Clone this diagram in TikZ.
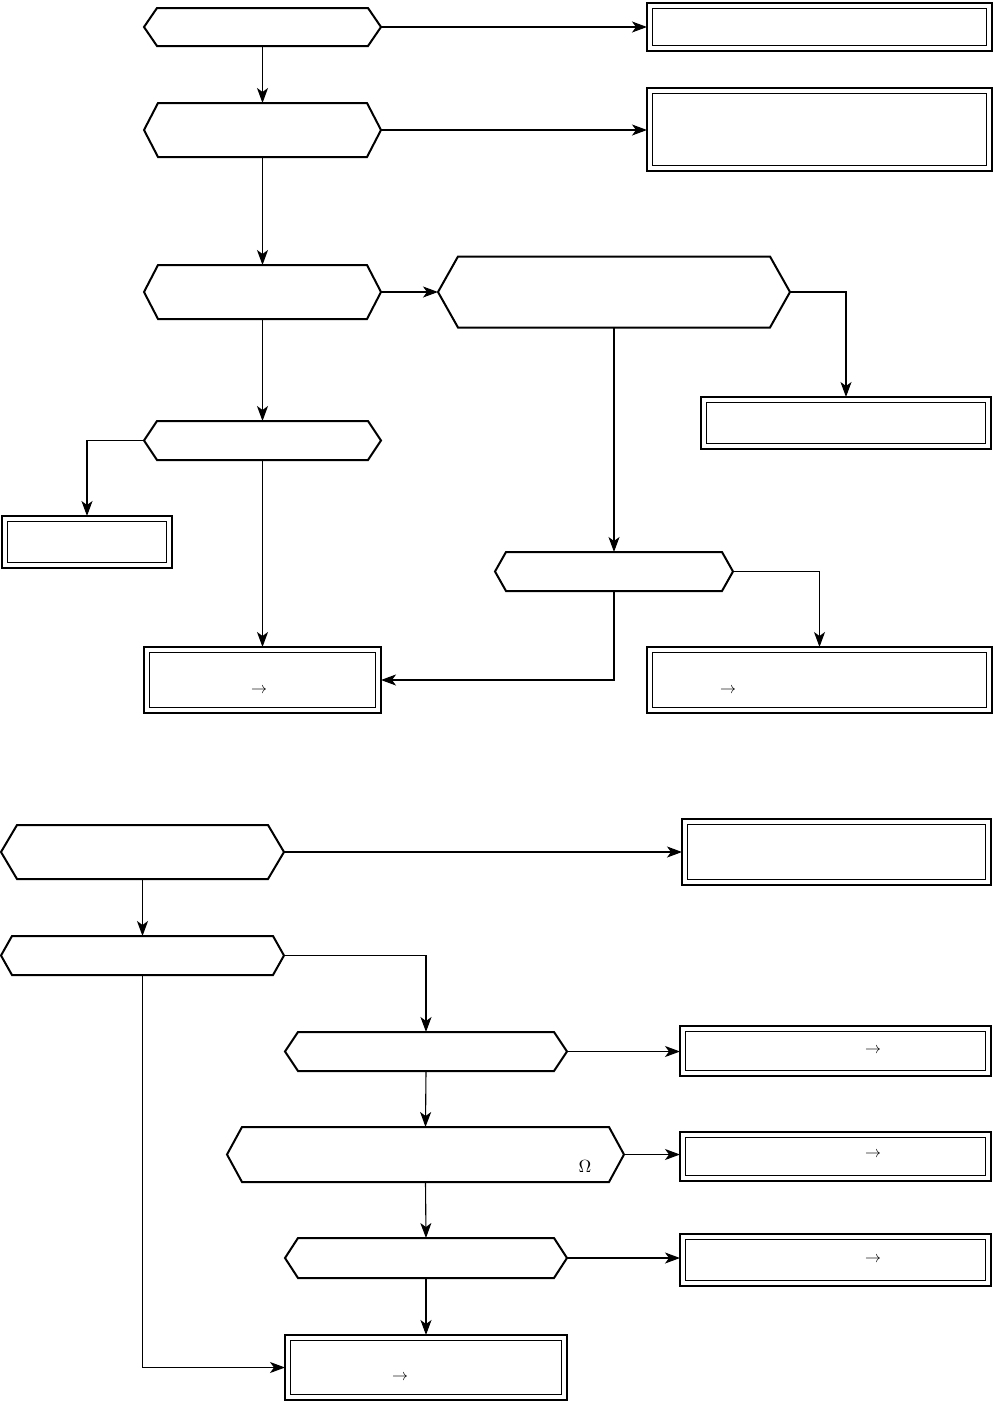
\documentclass[tikz,border=0pt]{standalone}
\usetikzlibrary{arrows.meta}
\tikzset{
 hexn/.style={rectangle, draw=none, inner sep=0, outer sep=0},
 dbox/.style={rectangle, draw, line width=2.6pt, inner sep=0, outer sep=0},
 hexline/.style={line width=2pt, line join=miter},
 conn/.style={line width=1.1pt, -{Stealth[length=15pt,width=11pt,inset=4pt]}},
 sym/.style={inner sep=0, transform shape, scale=1.6}
}
\newcommand\drawhex[2]{\draw[hexline] (#1.west) -- ([xshift=#2pt]#1.north west) -- ([xshift=-#2pt]#1.north east) -- (#1.east) -- ([xshift=-#2pt]#1.south east) -- ([xshift=#2pt]#1.south west) -- cycle;}
\newcommand\innerline[1]{\draw[line width=1.2pt] ([xshift=5.5pt,yshift=-5.5pt]#1.north west) rectangle ([xshift=-5.5pt,yshift=5.5pt]#1.south east);}
\begin{document}
\begin{tikzpicture}[x=1pt,y=-1pt]
\useasboundingbox (0,0) rectangle (994,1401);
% ---------- top part ----------
\node[hexn, minimum width=237, minimum height=38] (h1) at (262.5,27) {};
\node[hexn, minimum width=237, minimum height=54] (h2) at (262.5,130) {};
\node[hexn, minimum width=237, minimum height=54] (h3) at (262.5,292) {};
\node[hexn, minimum width=237, minimum height=39] (h4) at (262.5,440.5) {};
\node[hexn, minimum width=352, minimum height=71] (h5) at (614,292) {};
\node[hexn, minimum width=238, minimum height=39] (h6) at (614,571.5) {};
\drawhex{h1}{13}
\drawhex{h2}{14}
\drawhex{h3}{14}
\drawhex{h4}{13}
\drawhex{h5}{20}
\drawhex{h6}{11}
\node[dbox, minimum width=345, minimum height=48] (b1) at (819.5,27) {};
\node[dbox, minimum width=345, minimum height=83] (b2) at (819.5,129.5) {};
\node[dbox, minimum width=290, minimum height=52] (b3) at (846,423) {};
\node[dbox, minimum width=170, minimum height=52] (b4) at (87,542) {};
\node[dbox, minimum width=237, minimum height=66] (b5) at (262.5,680) {};
\node[dbox, minimum width=345, minimum height=66] (b6) at (819.5,680) {};
\innerline{b1}
\innerline{b2}
\innerline{b3}
\innerline{b4}
\innerline{b5}
\innerline{b6}
\node[sym] (s1) at (259,691) {$\rightarrow$};
\node[sym] (s2) at (728,691) {$\rightarrow$};
\draw[conn] (h1.east) -- (b1.west |- h1.east);
\draw[conn] (h1.south) -- (h2.north);
\draw[conn] (h2.east) -- (b2.west |- h2.east);
\draw[conn] (h2.south) -- (h3.north);
\draw[conn] (h3.east) -- (h5.west);
\draw[conn] (h3.south) -- (h4.north);
\draw[conn] (h5.east) -| (b3.north);
\draw[conn] (h5.south) -- (h6.north);
\draw[conn] (h4.west) -| (b4.north);
\draw[conn] (h4.south) -- (b5.north);
\draw[conn] (h6.south) |- (b5.east);
\draw[conn] (h6.east) -| (b6.north);
% ---------- bottom part ----------
\node[hexn, minimum width=283, minimum height=54] (h7) at (142.5,852) {};
\node[hexn, minimum width=283, minimum height=39] (h8) at (142.5,955.5) {};
\node[hexn, minimum width=282, minimum height=39] (h9) at (426,1051.5) {};
\node[hexn, minimum width=397, minimum height=55] (h10) at (425.5,1154.5) {};
\node[hexn, minimum width=282, minimum height=40] (h11) at (426,1258) {};
\drawhex{h7}{16}
\drawhex{h8}{11}
\drawhex{h9}{13}
\drawhex{h10}{15}
\drawhex{h11}{13}
\node[dbox, minimum width=309, minimum height=66] (b7) at (836.5,852) {};
\node[dbox, minimum width=311, minimum height=50] (b8) at (835.5,1051) {};
\node[dbox, minimum width=311, minimum height=49] (b9) at (835.5,1156.5) {};
\node[dbox, minimum width=311, minimum height=52] (b10) at (835.5,1260) {};
\node[dbox, minimum width=282, minimum height=65] (b11) at (426,1367.5) {};
\innerline{b7}
\innerline{b8}
\innerline{b9}
\innerline{b10}
\innerline{b11}
\node[sym] (s3) at (873,1051) {$\rightarrow$};
\node[sym] (s4) at (873,1155) {$\rightarrow$};
\node[sym] (s5) at (873,1260) {$\rightarrow$};
\node[sym] (s6) at (400,1378) {$\rightarrow$};
\node[sym, scale=1.1] (om) at (585,1166) {$\Omega$};
\draw[conn] (h7.east) -- (b7.west |- h7.east);
\draw[conn] (h7.south) -- (h8.north);
\draw[conn] (h8.east) -| (h9.north);
\draw[conn] (h8.south) |- (b11.west);
\draw[conn] (h9.east) -- (b8.west |- h9.east);
\draw[conn] (h9.south) -- (h10.north);
\draw[conn] (h10.east) -- (b9.west |- h10.east);
\draw[conn] (h10.south) -- (h11.north);
\draw[conn] (h11.east) -- (b10.west |- h11.east);
\draw[conn] (h11.south) -- (b11.north);
\end{tikzpicture}
\end{document}
